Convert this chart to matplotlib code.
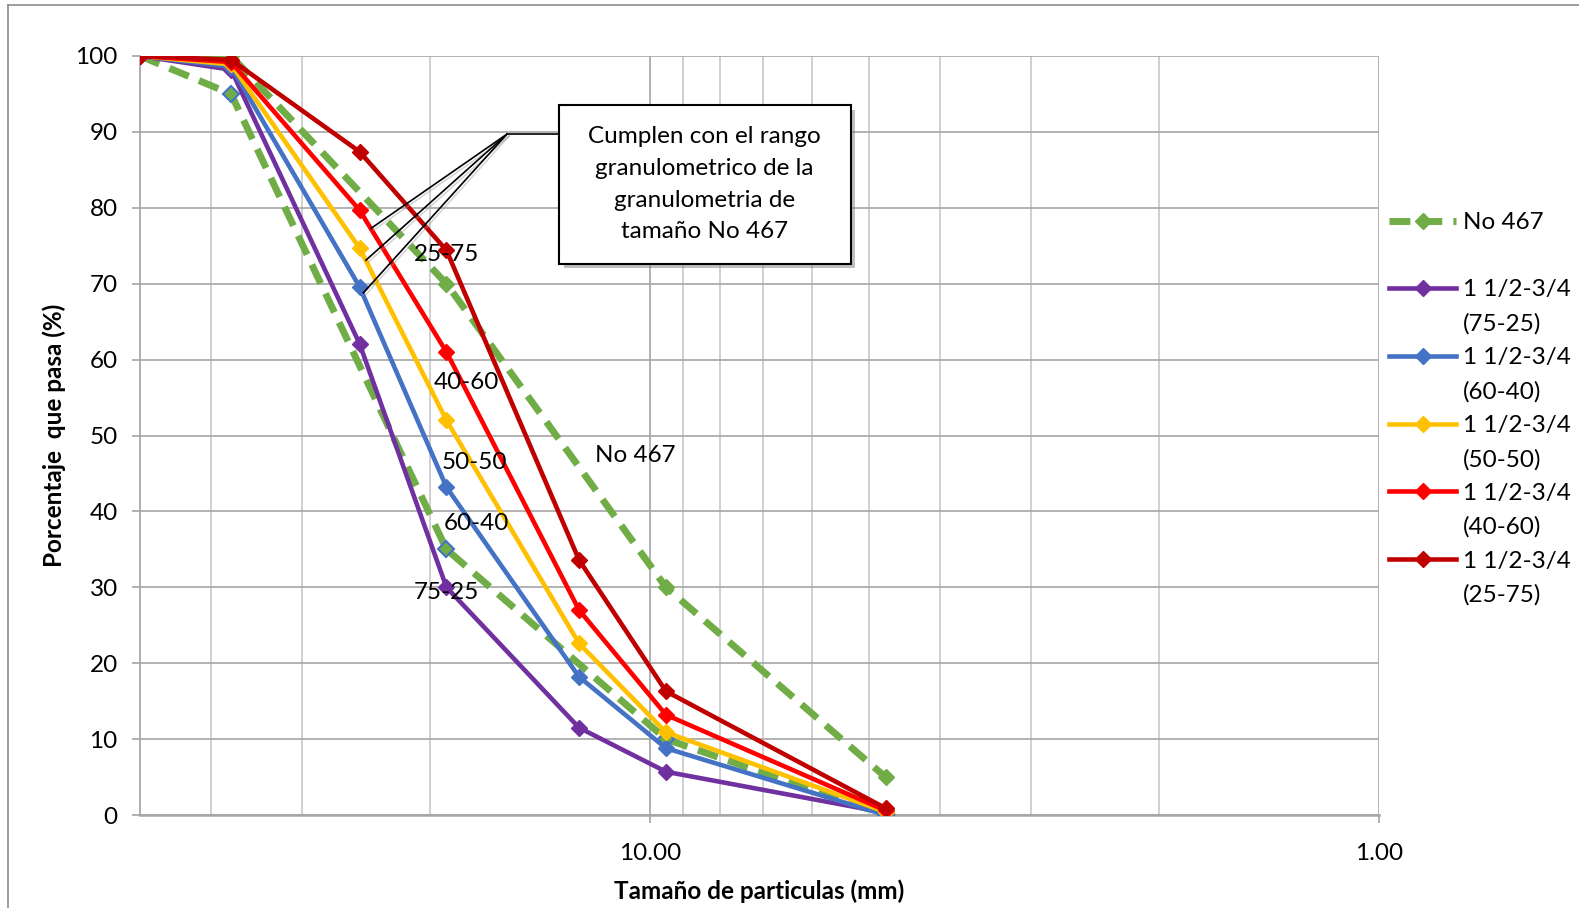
import matplotlib
matplotlib.use('Agg')
import matplotlib.pyplot as plt
import matplotlib.patheffects as pe
from matplotlib.lines import Line2D
from matplotlib.patches import Rectangle
from matplotlib.ticker import FixedLocator, FuncFormatter, NullFormatter, LogLocator

plt.rcParams['font.family'] = ['Lato', 'DejaVu Sans']
plt.rcParams['font.size'] = 17.5

# tamices (mm)
tamices = [50, 37.5, 25, 19, 12.5, 9.5, 4.75]
tamices_limite = [50, 37.5, 19, 9.5, 4.75]

# rango granulometrico No 467
no467_sup = [100, 100, 70, 30, 5]
no467_inf = [100, 95, 35, 10, 0]

# mezclas 1 1/2 - 3/4
mezcla_75_25 = [100, 98.2, 62.1, 30.0, 11.5, 5.7, 0.3]
mezcla_60_40 = [100, 98.6, 69.6, 43.2, 18.2, 8.8, 0.0]
mezcla_50_50 = [100, 98.9, 74.7, 52.0, 22.6, 10.9, 0.4]
mezcla_40_60 = [100, 99.2, 79.7, 61.0, 27.0, 13.2, 0.6]
mezcla_25_75 = [100, 99.5, 87.4, 74.4, 33.6, 16.3, 0.9]

mezclas = [mezcla_75_25, mezcla_60_40, mezcla_50_50, mezcla_40_60, mezcla_25_75]
nombres = ['1 1/2-3/4\n(75-25)', '1 1/2-3/4\n(60-40)', '1 1/2-3/4\n(50-50)',
           '1 1/2-3/4\n(40-60)', '1 1/2-3/4\n(25-75)']
etiquetas = ['75-25', '60-40', '50-50', '40-60', '25-75']
colores = ['#7030A0', '#4472C4', '#FFC000', '#FF0000', '#C00000']
verde = '#70AD47'

fig = plt.figure(figsize=(15.79, 9.08), dpi=100)
ax = fig.add_axes([140 / 1579, 93 / 908, 1239 / 1579, 759 / 908])

# limites No 467
l_sup, = ax.plot(tamices_limite, no467_sup, color=verde, lw=5, dashes=(3, 1.6),
                 marker='D', ms=8.5, mfc=verde, mec=verde, zorder=3)
ax.plot(tamices_limite, no467_inf, color=verde, lw=5, dashes=(3, 1.6),
        marker='D', ms=8.5, mfc=verde, mec='#4472C4', mew=1.5, zorder=3)

lineas = []
for vals, col in zip(mezclas, colores):
    ln, = ax.plot(tamices, vals, color=col, lw=3.3, marker='D', ms=8.5,
                  mfc=col, mec=col, zorder=4)
    lineas.append(ln)

ax.set_xscale('log')
ax.set_xlim(50, 1)
ax.set_ylim(0, 100)

ax.xaxis.set_major_locator(FixedLocator([10, 1]))
ax.xaxis.set_major_formatter(FuncFormatter(lambda v, p: '{:.2f}'.format(v)))
ax.xaxis.set_minor_locator(LogLocator(base=10, subs=range(2, 10)))
ax.xaxis.set_minor_formatter(NullFormatter())
ax.set_yticks(range(0, 101, 10))

ax.grid(True, which='major', axis='y', color='#a6a6a6', lw=1.2, zorder=0)
ax.grid(True, which='major', axis='x', color='#a6a6a6', lw=1.2, zorder=0)
ax.grid(True, which='minor', axis='x', color='#c8c8c8', lw=1.2, zorder=0)
ax.set_axisbelow(True)

for s in ['top', 'right']:
    ax.spines[s].set_visible(False)
ax.spines['left'].set_color('#a6a6a6')
ax.spines['left'].set_linewidth(1.2)
ax.spines['bottom'].set_color('#a6a6a6')
ax.spines['bottom'].set_linewidth(1.8)
ax.tick_params(axis='both', which='major', length=6, color='#a6a6a6', width=1.2)
ax.tick_params(axis='y', pad=10)
ax.tick_params(axis='x', pad=14)
ax.tick_params(axis='x', which='minor', length=0)

ax.set_ylabel('Porcentaje  que pasa (%)', fontweight='bold', labelpad=7)
ax.set_xlabel('Tamaño de particulas (mm)', fontweight='bold', labelpad=11)

# etiquetas de datos (en tamiz 19 mm)
desplaz = [(0, -5), (30, -36), (28, -42), (20, -30), (0, -4)]
for vals, txt, (dx, dy) in zip(mezclas, etiquetas, desplaz):
    ax.annotate(txt, xy=(19, vals[3]), xytext=(dx, dy), textcoords='offset pixels',
                ha='center', va='center', zorder=6)
ax.text(10.45, 47.4, 'No 467', ha='center', va='center', zorder=6)

# cuadro de llamada
caja = Rectangle((13.3, 72.6), 5.3 - 13.3, 93.5 - 72.6, facecolor='white',
                 edgecolor='black', lw=1.5, zorder=7,
                 path_effects=[pe.SimplePatchShadow(offset=(3, -3), shadow_rgbFace='#808080', alpha=0.5),
                               pe.Normal()])
ax.add_patch(caja)
ax.text(8.41, 83.1, 'Cumplen con el rango\ngranulometrico de la\ngranulometria de\ntamaño No 467',
        ha='center', va='center', linespacing=1.62, zorder=8)
vertice = (15.7, 89.7)
ax.plot([13.3, vertice[0]], [89.7, vertice[1]], color='black', lw=1.2, zorder=6)
for px, py in [(24.1, 77.3), (24.5, 73.1), (24.7, 68.8)]:
    ax.plot([vertice[0], px], [vertice[1], py], color='black', lw=1.2, zorder=6,
            path_effects=[pe.SimpleLineShadow(offset=(1.5, -1.5), shadow_color='#999999', alpha=0.4),
                          pe.Normal()])

# leyenda
vacio = Line2D([], [], color='none')
handles = [l_sup, vacio]
labels = ['No 467', ' ']
for ln, nom in zip(lineas, nombres):
    a, b = nom.split('\n')
    handles += [ln, vacio]
    labels += [a, b]
fig.legend(handles, labels, loc='upper left', bbox_to_anchor=(1377 / 1579, 1 - 200 / 908),
           frameon=False, borderpad=0, handlelength=2.75, handletextpad=0.3,
           labelspacing=0.52)

# borde del area del grafico
fig.add_artist(Line2D([8 / 1579, 8 / 1579], [0, 1 - 5 / 908], color='#8c8c8c', lw=1.2))
fig.add_artist(Line2D([8 / 1579, 1], [1 - 5 / 908, 1 - 5 / 908], color='#8c8c8c', lw=1.2))

fig.savefig('out.png', dpi=100)
